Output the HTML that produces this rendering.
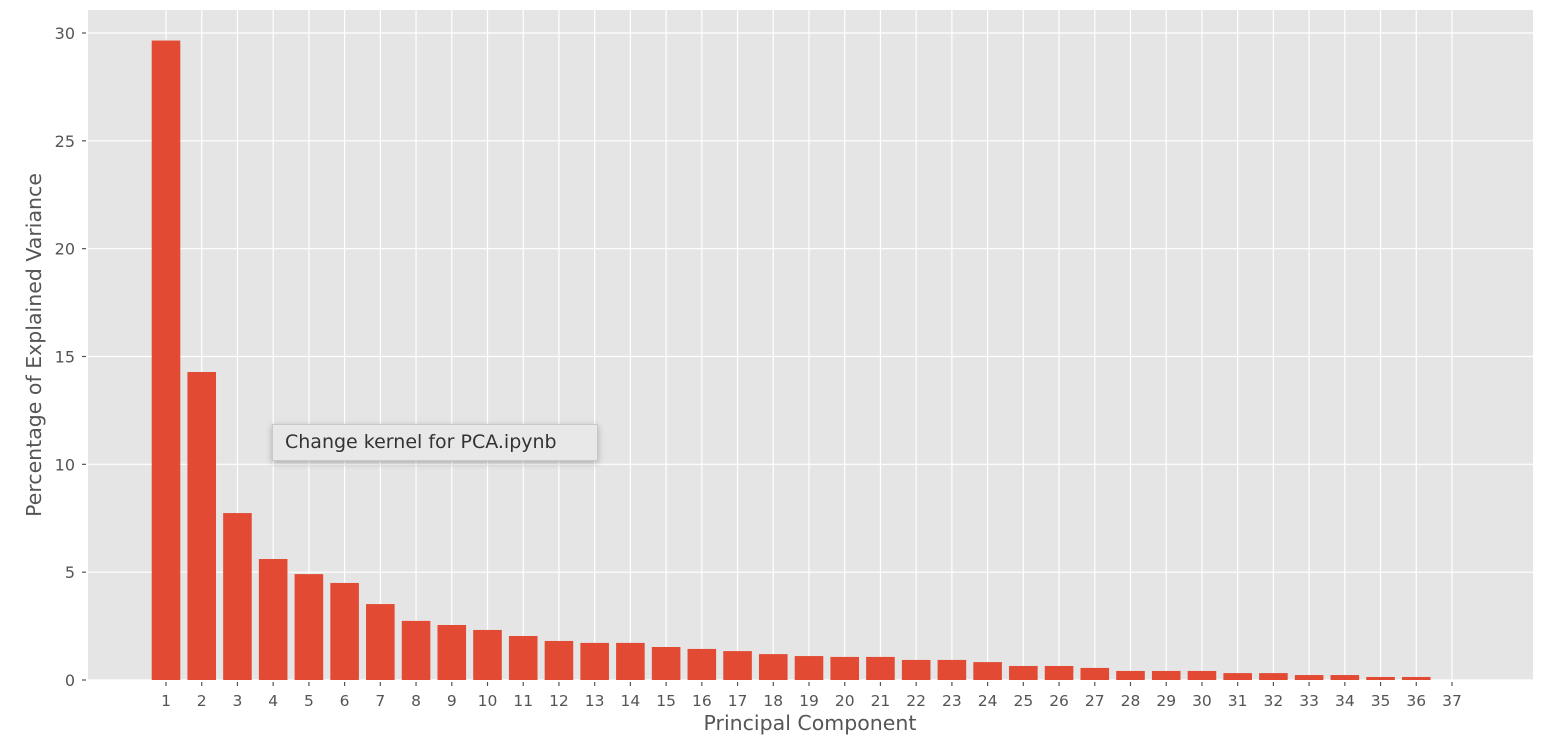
<!DOCTYPE html>
<html><head><meta charset="utf-8"><style>
body{margin:0;background:#fff;}
svg{display:block;font-family:"DejaVu Sans","Liberation Sans",sans-serif;}
#tip{position:absolute;left:272px;top:424px;width:326px;height:37px;background:#e8e8e8;border:1px solid #c8c8c8;box-shadow:0 2px 6px rgba(0,0,0,0.25);font-family:"DejaVu Sans","Liberation Sans",sans-serif;font-size:19px;color:#333;line-height:35px;padding-left:12px;box-sizing:border-box;white-space:nowrap;}
</style></head><body>
<svg id="chart" width="1546" height="742"></svg>
<div id="tip">Change kernel for PCA.ipynb</div>
<script>
const categories = [1,2,3,4,5,6,7,8,9,10,11,12,13,14,15,16,17,18,19,20,21,22,23,24,25,26,27,28,29,30,31,32,33,34,35,36,37];
const values = [29.65,14.28,7.74,5.61,4.91,4.5,3.52,2.74,2.55,2.32,2.04,1.81,1.72,1.72,1.53,1.44,1.34,1.2,1.11,1.07,1.07,0.93,0.93,0.83,0.65,0.65,0.56,0.42,0.42,0.42,0.32,0.32,0.23,0.23,0.14,0.14,0.0];
const yTicks = [0,5,10,15,20,25,30];
const NS='http://www.w3.org/2000/svg';
const svg=document.getElementById('chart');
const L=88,R=1533,T=10,B=680;
const y0=680, pxPerUnit=(680-33)/30;
function yS(v){return y0-v*pxPerUnit;}
const x1=166, dx=(1452-166)/36;
function xS(c){return x1+(c-1)*dx;}
function mk(tag,attrs){const e=document.createElementNS(NS,tag);for(const k in attrs)e.setAttribute(k,attrs[k]);svg.appendChild(e);return e;}
let bg=mk('rect',{x:L,y:T,width:R-L,height:B-T,fill:'#e5e5e5'});


yTicks.forEach(t=>{
  const g=mk('line',{x1:L,x2:R,y1:yS(t),y2:yS(t),stroke:'#fff','stroke-width':1.2});
  
  
  mk('line',{x1:L-6,x2:L-2,y1:yS(t),y2:yS(t),stroke:'#555','stroke-width':1.2});
  const tx=mk('text',{x:L-13,y:yS(t)+6,'text-anchor':'end','font-size':16,fill:'#555'});
  tx.textContent=t;
  
  
});
categories.forEach(c=>{
  const g=mk('line',{x1:xS(c),x2:xS(c),y1:T,y2:B,stroke:'#fff','stroke-width':1.2});
  
  
  mk('line',{x1:xS(c),x2:xS(c),y1:B+2,y2:B+6,stroke:'#555','stroke-width':1.2});
  const tx=mk('text',{x:xS(c),y:B+26,'text-anchor':'middle','font-size':15.5,fill:'#555'});
  tx.textContent=c;
  
  
});
const bw=dx*0.8;
values.forEach((v,i)=>{
  const c=categories[i];
  const r=mk('rect',{x:xS(c)-bw/2,y:yS(v),width:bw,height:y0-yS(v),fill:'#e24a33'});
  
  
});
const xl=mk('text',{x:810,y:730,'text-anchor':'middle','font-size':20.5,fill:'#555'});
xl.textContent='Principal Component';


const yl=mk('text',{x:0,y:0,'text-anchor':'middle','font-size':20.5,fill:'#555',transform:'translate(41,345) rotate(-90)'});
yl.textContent='Percentage of Explained Variance';


</script>
</body></html>
